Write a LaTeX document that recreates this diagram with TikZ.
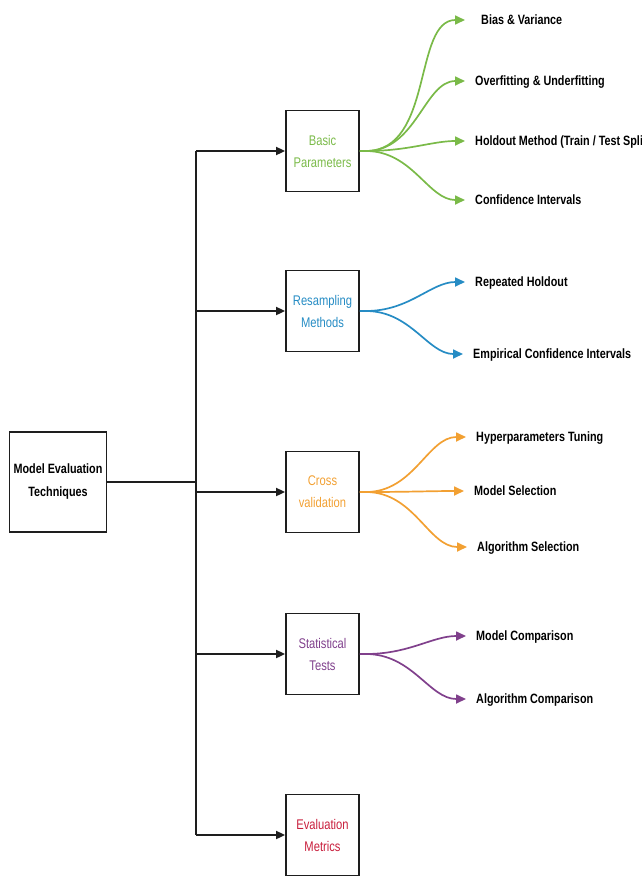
\documentclass[tikz,border=0pt]{standalone}
\usepackage{fontspec}
\setmainfont{Liberation Sans}[FakeStretch=0.8]
\usetikzlibrary{arrows.meta}

\definecolor{cgreen}{RGB}{122,186,72}
\definecolor{cblue}{RGB}{38,140,196}
\definecolor{corange}{RGB}{242,160,50}
\definecolor{cpurple}{RGB}{128,64,140}
\definecolor{cred}{RGB}{200,30,60}
\definecolor{cline}{RGB}{30,30,30}

\begin{document}
\begin{tikzpicture}[x=1pt,y=-1pt,
  every node/.style={font=\fontsize{13.5}{22}\selectfont},
  rootbox/.style={draw=cline,line width=1.8pt,minimum width=97,minimum height=100,
    align=center,inner sep=0,font=\fontsize{13.5}{23}\selectfont\bfseries},
  catbox/.style={draw=cline,line width=1.8pt,minimum width=73,minimum height=81,
    align=center,inner sep=0,text=#1,font=\fontsize{14}{22}\selectfont},
  leaf/.style={anchor=west,inner sep=0,text height=9.7pt,text depth=0pt,
    font=\fontsize{13.5}{22}\selectfont\bfseries},
  trunkline/.style={draw=cline,line width=1.8pt},
  trunkarrow/.style={trunkline,-{Triangle[length=9pt,width=8pt]}},
  branch/.style={draw=#1,line width=1.7pt,-{Triangle[length=10pt,width=9pt]},
    shorten >=10pt},
]
\useasboundingbox (0,0) rectangle (641,876);

% main topic
\node[rootbox] (root) at (58,482) {Model Evaluation\\Techniques};

% category boxes
\node[catbox=cgreen]  (basic) at (322.5,151) {Basic\\Parameters};
\node[catbox=cblue]   (resam) at (322.5,311) {Resampling\\Methods};
\node[catbox=corange] (cross) at (322.5,492) {Cross\\validation};
\node[catbox=cpurple] (stat)  at (322.5,654) {Statistical\\Tests};
\node[catbox=cred]    (evalm) at (322.5,835) {Evaluation\\Metrics};

% trunk
\coordinate (jt) at (196,151);
\coordinate (jb) at (196,835);
\draw[trunkline] (jt) -- (jb);
\draw[trunkline] (root.east) -- (root.east -| jt);
\foreach \b in {basic,resam,cross,stat,evalm}
  \draw[trunkarrow] (\b.west -| jt) -- (\b.west);

% leaves: basic parameters
\node[leaf] (l1) at (481,20)  {Bias \& Variance};
\node[leaf] (l2) at (475,81)  {Overfitting \& Underfitting};
\node[leaf] (l3) at (475,141) {Holdout Method (Train / Test Split)};
\node[leaf] (l4) at (475,200) {Confidence Intervals};
% leaves: resampling
\node[leaf] (l5) at (475,282) {Repeated Holdout};
\node[leaf] (l6) at (473,354) {Empirical Confidence Intervals};
% leaves: cross validation
\node[leaf] (l7) at (476,437) {Hyperparameters Tuning};
\node[leaf] (l8) at (474,491) {Model Selection};
\node[leaf] (l9) at (477,547) {Algorithm Selection};
% leaves: statistical tests
\node[leaf] (l10) at (476,636) {Model Comparison};
\node[leaf] (l11) at (476,699) {Algorithm Comparison};

% branches
\foreach \t/\s in {l1/16pt,l2/10pt,l3/10pt,l4/10pt}
  \draw[branch=cgreen,shorten >=\s] (basic.east) -- ++(6,0) to[out=0,in=180] (\t.west);
\foreach \t in {l5,l6}
  \draw[branch=cblue] (resam.east) -- ++(6,0) to[out=0,in=180] (\t.west);
\foreach \t in {l7,l8,l9}
  \draw[branch=corange] (cross.east) -- ++(6,0) to[out=0,in=180] (\t.west);
\foreach \t in {l10,l11}
  \draw[branch=cpurple] (stat.east) -- ++(6,0) to[out=0,in=180] (\t.west);
\end{tikzpicture}
\end{document}
